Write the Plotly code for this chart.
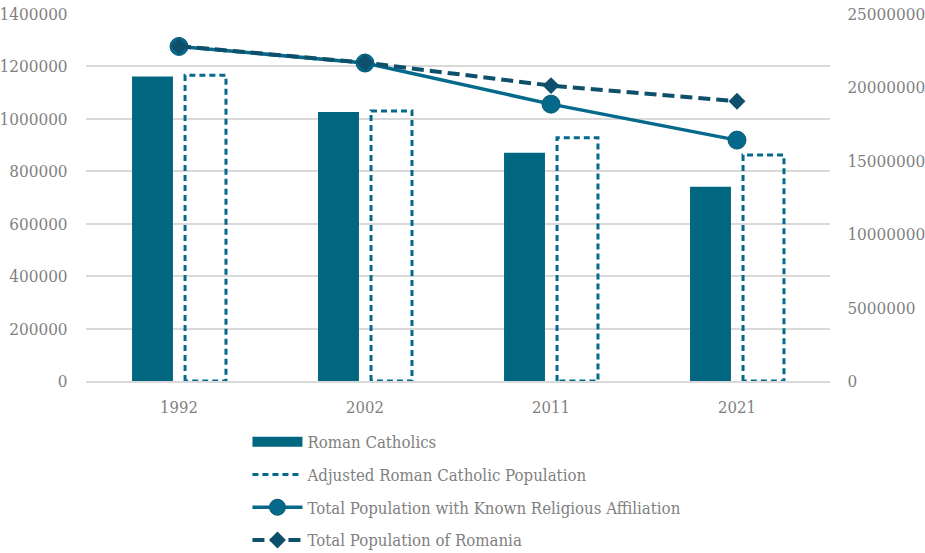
import plotly.graph_objects as go

# Census years and series
years = ["1992", "2002", "2011", "2021"]
roman_catholics = [1161942, 1026429, 870774, 741203]
adjusted_rc = [1166000, 1030000, 928000, 862000]
known_affiliation = [22790000, 21660000, 18860000, 16410000]
total_romania = [22810035, 21680974, 20121641, 19053815]

left_ticks = [0, 200000, 400000, 600000, 800000, 1000000, 1200000, 1400000]
right_ticks = [0, 5000000, 10000000, 15000000, 20000000, 25000000]

BAR = "#01667F"
LINE = "#04698A"
DARK = "#0E4F6B"
TXT = "#7F7F7F"
GRID = "#D9D9D9"
FONT = "DejaVu Serif Condensed, DejaVu Serif, serif"

xpos = list(range(len(years)))
offset = 0.1425
width = 0.22

fig = go.Figure()

fig.add_trace(go.Bar(
    x=[p - offset for p in xpos], y=roman_catholics, width=width,
    marker=dict(color=BAR, line=dict(width=0)),
    name="Roman Catholics", showlegend=False,
))
# legend key drawn as a thick swatch
fig.add_trace(go.Scatter(
    x=[None], y=[None], mode="lines", line=dict(color=BAR, width=10),
    name="Roman Catholics", legendgroup="a",
))

# dashed outlines for the adjusted population bars
ox, oy = [], []
for p, v in zip(xpos, adjusted_rc):
    x0, x1 = p + offset - width / 2, p + offset + width / 2
    ox += [x0, x0, x1, x1, x0, None]
    oy += [0, v, v, 0, 0, None]
fig.add_trace(go.Scatter(
    x=ox, y=oy, mode="lines",
    line=dict(color=LINE, width=3, dash="6px,4px"),
    name="Adjusted Roman Catholic Population", legendgroup="b",
    hoverinfo="skip",
))

fig.add_trace(go.Scatter(
    x=xpos, y=known_affiliation, yaxis="y2", mode="lines+markers",
    line=dict(color=LINE, width=3.5),
    marker=dict(symbol="circle", size=18, color=LINE, line=dict(color="#0A5A75", width=1)),
    name="Total Population with Known Religious Affiliation", legendgroup="c",
))

fig.add_trace(go.Scatter(
    x=xpos, y=total_romania, yaxis="y2", mode="lines+markers",
    line=dict(color=DARK, width=4, dash="12px,6px"),
    marker=dict(symbol="diamond", size=13, color=DARK),
    name="Total Population of Romania", legendgroup="d",
))

fig.update_layout(
    width=925, height=553,
    margin=dict(l=86, r=95, t=14, b=172, autoexpand=False),
    paper_bgcolor="white", plot_bgcolor="white",
    font=dict(family=FONT, size=16.7, color=TXT),
    showlegend=True,
    legend=dict(
        orientation="v", x=0.217, xanchor="left",
        yref="container", y=0.2324, yanchor="top",
        font=dict(family=FONT, size=16.7, color=TXT),
        itemwidth=50, tracegroupgap=8, traceorder="grouped",
    ),
    xaxis=dict(
        range=[-0.5, 3.5], tickvals=xpos, ticktext=years,
        showgrid=False, zeroline=False, showline=True, linecolor=GRID, linewidth=1.5,
        ticks="outside", ticklen=10, tickcolor="rgba(0,0,0,0)",
        tickfont=dict(family=FONT, size=16.5, color=TXT),
    ),
    yaxis=dict(
        range=[0, 1400000], tickvals=left_ticks, tickformat="d",
        showgrid=True, gridcolor=GRID, gridwidth=1.5, zeroline=False,
        ticks="outside", ticklen=14, tickcolor="rgba(0,0,0,0)",
        tickfont=dict(family=FONT, size=17, color=TXT),
    ),
    yaxis2=dict(
        range=[0, 25000000], tickvals=right_ticks, tickformat="d",
        overlaying="y", side="right", showgrid=False, zeroline=False,
        ticks="outside", ticklen=13, tickcolor="rgba(0,0,0,0)",
        tickfont=dict(family=FONT, size=17, color=TXT),
    ),
)

fig.write_html("out.html")
